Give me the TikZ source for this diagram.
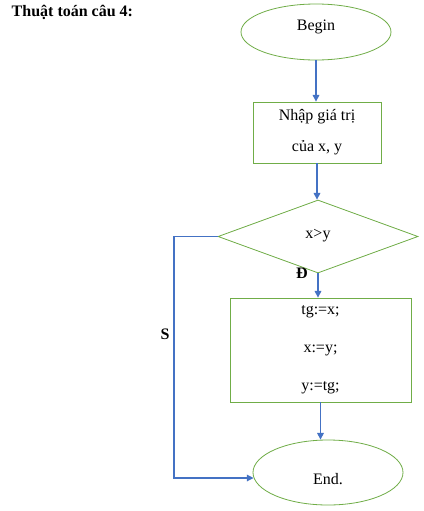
\documentclass[tikz,border=0pt]{standalone}
\usepackage{fontspec}
\setmainfont{Liberation Serif}
\usetikzlibrary{shapes.geometric,arrows.meta}
\definecolor{boxgreen}{RGB}{112,173,71}
\definecolor{arrowblue}{RGB}{68,114,196}
\begin{document}
\begin{tikzpicture}[x=0.75pt,y=-0.75pt,
  every node/.style={font=\fontsize{12}{14}\selectfont},
  shapebox/.style={draw=boxgreen,line width=0.6pt,inner sep=0pt},
  flow/.style={draw=arrowblue,line width=0.8pt,-{Triangle[width=5pt,length=5pt]}},
  lbl/.style={font=\fontsize{12}{14}\selectfont\bfseries}]
\useasboundingbox (0,0) rectangle (424,511);
\fill[white] (0,0) rectangle (424,511);
\node[lbl,anchor=west] (title) at (7,12) {Thuật toán câu 4:};
\node[shapebox,ellipse,minimum width=112.5pt,minimum height=42pt] (begin) at (316,32) {};
\node (begintxt) at (316,27) {Begin};
\node[shapebox,rectangle,minimum width=96pt,minimum height=45.75pt,align=center,
      font=\fontsize{12}{23.25}\selectfont] (input) at (317,132.5) {Nhập giá trị\\của x, y};
\node[shapebox,diamond,minimum width=150pt,minimum height=54.75pt] (dec) at (318,236.5) {};
\node (dectxt) at (318,236) {x>y};
\node[shapebox,rectangle,minimum width=135.75pt,minimum height=78pt,align=center,
      font=\fontsize{12}{28.5}\selectfont] (proc) at (320.5,350) {tg:=x;\\x:=y;\\y:=tg;};
\node[shapebox,ellipse,minimum width=112.5pt,minimum height=48.75pt] (end) at (328,472.5) {};
\node (endtxt) at (328,479) {End.};
\coordinate (c1) at (174,236.5);
\coordinate (c2) at (174,478);
\coordinate (endw) at (253.5,478);
\draw[flow] (begin.south) -- (begin.south |- input.north);
\draw[flow] (input.south) -- (input.south |- dec.north);
\draw[flow] (dec.south) -- (dec.south |- proc.north);
\draw[flow] (proc.south) -- (proc.south |- end.north);
\draw[flow] (dec.west) -- (c1) -- (c2) -- (endw);
\node[lbl] (dlbl) at (302,273) {Đ};
\node[lbl] (slbl) at (165,334) {S};
\end{tikzpicture}
\end{document}
